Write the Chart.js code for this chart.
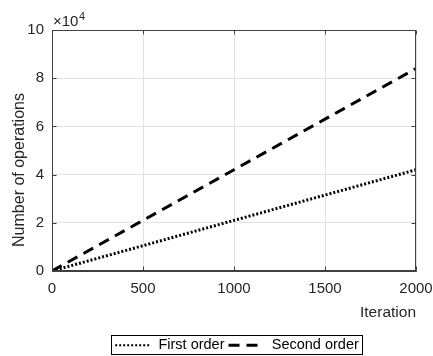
<!DOCTYPE html>
<html>
<head>
<meta charset="utf-8">
<script src="https://cdn.jsdelivr.net/npm/chart.js@4.4.0/dist/chart.umd.min.js"></script>
<style>
  html, body { margin: 0; padding: 0; background: #fff; }
</style>
</head>
<body>
<canvas id="opsChart" width="433" height="356"></canvas>
<script>
// values (y in operations, shown as x10^4)
const iterations = [0, 500, 1000, 1500, 2000];
const firstOrder = [0, 10500, 21000, 31500, 42000];
const secondOrder = [0, 21000, 42000, 63000, 84000];
const xTicks = [0, 500, 1000, 1500, 2000];
const yTicks = [0, 20000, 40000, 60000, 80000, 100000];
const seriesNames = ['First order', 'Second order'];

const FONT = '"Liberation Sans", Arial, Helvetica, sans-serif';
const TXT = '#262626';
const AXIS = '#404040';

function toPoints(ys) {
  return iterations.map((x, i) => ({ x: x, y: ys[i] }));
}

// box around the plot, inward ticks, labels, legend frame
const frame = {
  id: 'frame',
  afterUpdate(chart) {
    const lg = chart.legend;
    const hb = lg.legendHitBoxes;
    if (!hb || !hb.length) return;
    const last = hb[hb.length - 1];
    const mid = (hb[0].left + last.left + last.width) / 2;
    const dx = 237 - mid;
    const dy = 338 - hb[0].top;
    lg.left += dx; lg.right += dx;
    lg.top += dy; lg.bottom += dy;
    hb.forEach(b => { b.left += dx; b.top += dy; });
  },
  afterDraw(chart) {
    const ctx = chart.ctx;
    const a = chart.chartArea;
    const xs = chart.scales.x, ys = chart.scales.y;
    const L = Math.round(a.left) + 0.5, R = Math.round(a.right) - 0.5;
    const T = Math.round(a.top) + 0.5, B = Math.round(a.bottom) - 0.5;
    ctx.save();
    ctx.strokeStyle = AXIS;
    ctx.lineWidth = 1;
    ctx.strokeRect(L, T, R - L, B - T);
    ctx.beginPath();
    xTicks.forEach(v => {
      const px = Math.round(xs.getPixelForValue(v)) + 0.5;
      ctx.moveTo(px, B); ctx.lineTo(px, B - 4);
      ctx.moveTo(px, T); ctx.lineTo(px, T + 4);
    });
    yTicks.forEach(v => {
      const py = Math.round(ys.getPixelForValue(v)) + 0.5;
      ctx.moveTo(L, py); ctx.lineTo(L + 4, py);
      ctx.moveTo(R, py); ctx.lineTo(R - 4, py);
    });
    ctx.stroke();

    // exponent label
    ctx.fillStyle = TXT;
    ctx.textBaseline = 'alphabetic';
    ctx.textAlign = 'left';
    ctx.font = '15px ' + FONT;
    ctx.fillText('\u00d710', a.left + 1, 26);
    const w = ctx.measureText('\u00d710').width;
    ctx.font = '11px ' + FONT;
    ctx.fillText('4', a.left + 1 + w + 0.5, 20);

    // y axis label
    ctx.save();
    ctx.translate(20, 170);
    ctx.rotate(-Math.PI / 2);
    ctx.textAlign = 'center';
    ctx.textBaseline = 'middle';
    ctx.font = '16px ' + FONT;
    ctx.fillText('Number of operations', 0, 0);
    ctx.restore();

    // legend border
    const hb = chart.legend.legendHitBoxes;
    if (hb && hb.length) {
      const last = hb[hb.length - 1];
      const x0 = Math.round(hb[0].left - 4) + 0.5;
      const x1 = Math.round(last.left + last.width + 3) + 0.5;
      const y0 = 335.5;
      const y1 = 354.5;
      ctx.strokeStyle = '#000';
      ctx.strokeRect(x0, y0, x1 - x0, y1 - y0);
    }
    ctx.restore();
  }
};

new Chart(document.getElementById('opsChart'), {
  type: 'line',
  data: {
    datasets: [
      {
        label: seriesNames[0],
        data: toPoints(firstOrder),
        borderColor: '#000',
        backgroundColor: '#000',
        borderWidth: 3,
        borderDash: [2, 2],
        pointRadius: 0,
        pointStyle: 'line',
        tension: 0,
        fill: false
      },
      {
        label: seriesNames[1],
        data: toPoints(secondOrder),
        borderColor: '#000',
        backgroundColor: '#000',
        borderWidth: 3,
        borderDash: [11, 7],
        pointRadius: 0,
        pointStyle: 'line',
        tension: 0,
        fill: false
      }
    ]
  },
  options: {
    responsive: false,
    animation: false,
    devicePixelRatio: 1,
    layout: { padding: { top: 30, right: 17, left: 0, bottom: 0 } },
    plugins: {
      tooltip: { enabled: false },
      legend: {
        position: 'bottom',
        labels: {
          usePointStyle: true,
          pointStyleWidth: 36,
          padding: 4,
          color: '#000',
          font: { family: FONT, size: 14.5 },
          generateLabels: chart => {
            const items = Chart.defaults.plugins.legend.labels.generateLabels(chart);
            items.forEach(it => {
              const ds = chart.data.datasets[it.datasetIndex];
              it.lineDash = it.datasetIndex === 0 ? [2, 2] : ds.borderDash;
              it.lineWidth = it.datasetIndex === 0 ? 2 : 3;
              it.strokeStyle = '#000';
            });
            return items;
          }
        }
      }
    },
    scales: {
      x: {
        type: 'linear',
        min: 0,
        max: 2000,
        afterBuildTicks: s => { s.ticks = xTicks.map(v => ({ value: v })); },
        afterFit: s => {
          s.height = s.chart.height - s.chart.legend.height - 271;
          s.paddingLeft = 0;
          s.paddingRight = 17;
        },
        grid: { color: '#e2e2e2', drawTicks: false },
        border: { color: AXIS },
        ticks: {
          padding: 9,
          maxRotation: 0,
          color: TXT,
          font: { family: FONT, size: 15 },
          callback: v => String(v)
        },
        title: {
          display: true,
          text: 'Iteration',
          align: 'end',
          color: TXT,
          padding: { top: 0, bottom: 5 },
          font: { family: FONT, size: 15.5 }
        }
      },
      y: {
        type: 'linear',
        min: 0,
        max: 100000,
        afterBuildTicks: s => { s.ticks = yTicks.map(v => ({ value: v })); },
        afterFit: s => { s.width = 52; },
        grid: { color: '#e2e2e2', drawTicks: false },
        border: { color: AXIS },
        ticks: {
          padding: 8,
          color: TXT,
          font: { family: FONT, size: 15 },
          callback: v => String(v / 10000)
        }
      }
    }
  },
  plugins: [frame]
});
</script>
</body>
</html>
